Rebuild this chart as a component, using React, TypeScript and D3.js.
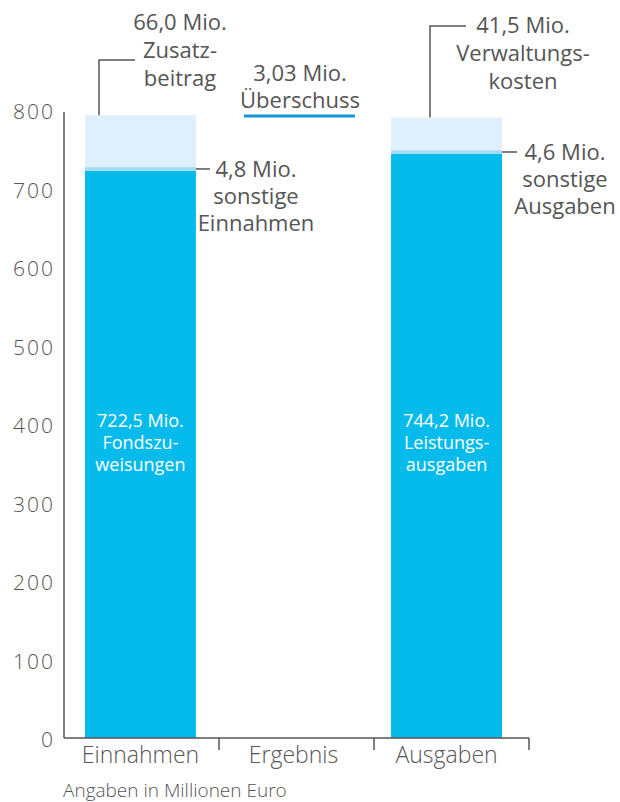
import React from "react";
import * as d3 from "d3";

const categories = ["Einnahmen", "Ergebnis", "Ausgaben"];
const baseValues = [722.5, 0, 744.2];
const midValues = [4.8, 0, 4.6];
const topValues = [66.0, 0, 41.5];
const yTicks = [0, 100, 200, 300, 400, 500, 600, 700, 800];
const surplus = 3.03;

const W = 620;
const H = 802;
const FONT = "'Open Sans', 'Noto Sans', sans-serif";
const TEXT = "#555";
const C_BASE = "#05bbeb";
const C_MID = "#a6daf5";
const C_TOP = "#dff0fc";
const C_LINE = "#1197d6";

export default function App() {
  const x = d3.scaleBand<string>().domain(categories).range([64, 523]).paddingInner(0.275).paddingOuter(0.137);
  const xAxis = d3.scaleBand<string>().domain(categories).range([64, 529]);
  const y = d3.scaleLinear().domain([0, 800]).range([738, 110]);
  const bw = x.bandwidth();

  const stacks = categories.map((c, i) => {
    const b = baseValues[i], m = midValues[i], t = topValues[i];
    return { c, b, m, t, x0: x(c) as number };
  });
  const ein = stacks[0];
  const aus = stacks[2];

  const lbl = (lines: string[], cx: number, y0: number, lh: number, size: number, fill = TEXT, weight = 400) => (
    <text textAnchor="middle" fontFamily={FONT} fontSize={size} fill={fill} fontWeight={weight}>
      {lines.map((l, i) => (
        <tspan key={i} x={cx} y={y0 + i * lh}>{l}</tspan>
      ))}
    </text>
  );

  const einTop = y(ein.b + ein.m + ein.t);
  const ausTop = y(aus.b + aus.m + aus.t);
  const einMid = y(ein.b + ein.m / 2);
  const ausMid = y(aus.b + aus.m / 2);
  const fmt1 = (v: number) => d3.format(".1f")(v).replace(".", ",");

  return (
    <svg width={W} height={H} style={{ position: "absolute", left: 0, top: 0 }}>
      {stacks.map((s) =>
        s.b + s.m + s.t > 0 ? (
          <g key={s.c}>
            <rect x={s.x0} width={bw} y={y(s.b)} height={y(0) - y(s.b)} fill={C_BASE} />
            <rect x={s.x0} width={bw} y={y(s.b + s.m)} height={y(s.b) - y(s.b + s.m)} fill={C_MID} />
            <rect x={s.x0} width={bw} y={y(s.b + s.m + s.t)} height={y(s.b + s.m) - y(s.b + s.m + s.t)} fill={C_TOP} />
          </g>
        ) : null
      )}

      {/* y axis */}
      <line x1={64} x2={64} y1={y(800) + 2} y2={y(0)} stroke="#555" strokeWidth={1.5} />
      {yTicks.map((t) => (
        <text key={t} x={55} y={y(t) + 2} dy="0.35em" textAnchor="end" fontFamily={FONT} fontSize={21} letterSpacing={2} fill={TEXT} fontWeight={300}>
          {t}
        </text>
      ))}
      {/* x axis */}
      <line x1={64} x2={529} y1={y(0)} y2={y(0)} stroke="#555" strokeWidth={1.5} />
      {categories.map((c) => (
        <line key={c} x1={(xAxis(c) as number) + xAxis.bandwidth()} x2={(xAxis(c) as number) + xAxis.bandwidth()} y1={y(0)} y2={y(0) + 12} stroke="#555" strokeWidth={1.5} />
      ))}
      {categories.map((c) => (
        <text key={c} x={(x(c) as number) + bw / 2} y={763} textAnchor="middle" fontFamily={FONT} fontSize={23} fill={TEXT} fontWeight={300}>
          {c}
        </text>
      ))}
      <text x={63} y={797} fontFamily={FONT} fontSize={19} fill={TEXT} fontWeight={300}>
        Angaben in Millionen Euro
      </text>

      {/* in-bar labels */}
      {lbl([`${fmt1(ein.b)} Mio.`, "Fondszu-", "weisungen"], ein.x0 + bw / 2, 427, 22, 18, "#fff")}
      {lbl([`${fmt1(aus.b)} Mio.`, "Leistungs-", "ausgaben"], aus.x0 + bw / 2, 427, 22, 18, "#fff")}

      {/* Zusatzbeitrag */}
      <polyline points={`99,${einTop} 99,60 135,60`} fill="none" stroke="#555" strokeWidth={1.5} />
      {lbl([`${fmt1(ein.t)} Mio.`, "Zusatz-", "beitrag"], 180, 30, 28, 22)}

      {/* sonstige Einnahmen */}
      <line x1={ein.x0 + bw} x2={210} y1={einMid} y2={einMid} stroke="#555" strokeWidth={1.5} />
      {lbl([`${fmt1(ein.m)} Mio.`, "sonstige", "Einnahmen"], 256, 177, 27, 22)}

      {/* Überschuss */}
      {lbl([`${d3.format(".2f")(surplus).replace(".", ",")} Mio.`, "Überschuss"], 300, 81, 27, 22)}
      <line x1={244} x2={355} y1={116} y2={116} stroke={C_LINE} strokeWidth={3} />

      {/* Verwaltungskosten */}
      <polyline points={`430,${ausTop} 430,26 466,26`} fill="none" stroke="#555" strokeWidth={1.5} />
      {lbl([`${fmt1(aus.t)} Mio.`, "Verwaltungs-", "kosten"], 523, 33, 28, 22)}

      {/* sonstige Ausgaben */}
      <line x1={aus.x0 + bw} x2={517} y1={ausMid} y2={ausMid} stroke="#555" strokeWidth={1.5} />
      {lbl([`${fmt1(aus.m)} Mio.`, "sonstige", "Ausgaben"], 565, 160, 27, 22)}
    </svg>
  );
}
